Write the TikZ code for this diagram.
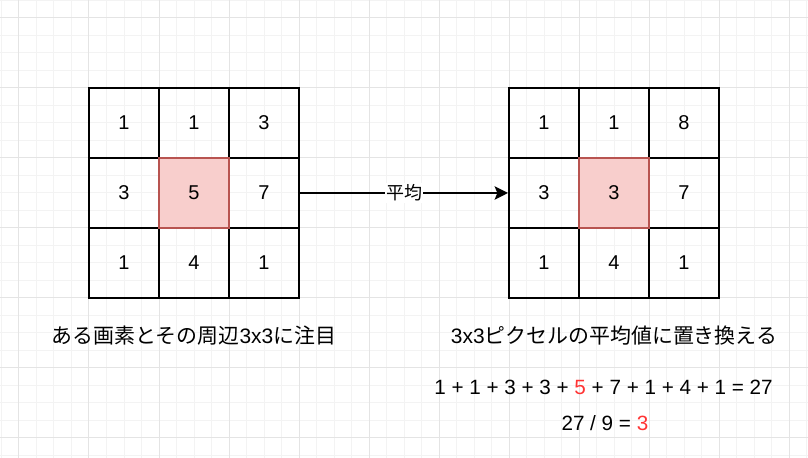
\documentclass[tikz,border=0pt]{standalone}
\usepackage{fontspec}
\setmainfont{Liberation Sans}
\newfontfamily\jpfont{Noto Sans CJK JP}
\usetikzlibrary{arrows.meta}

\definecolor{cellpink}{HTML}{F8CECC}
\definecolor{cellred}{HTML}{B85450}
\definecolor{hired}{HTML}{FF3333}
\definecolor{gridmajor}{HTML}{E4E4E4}
\definecolor{gridminor}{HTML}{F3F3F3}

\begin{document}
\begin{tikzpicture}[x=52.5pt, y=52.5pt,
    cell/.style={draw, line width=1.5pt, minimum size=52.5pt, inner sep=0pt, font=\fontsize{15}{18}\selectfont},
    focus/.style={cell, fill=cellpink, draw=cellred, line width=1pt},
    caption/.style={font=\fontsize{15.7}{18}\selectfont\jpfont},
    formula/.style={font=\fontsize{15.5}{18}\selectfont}]
  \useasboundingbox (-0.2714,-0.2857) rectangle (11.2714,6.2571);

  % Background grid
  \fill[white] (-0.2714,-0.2857) rectangle (11.2714,6.2571);
  \draw[gridminor, line width=0.75pt] (-0.2714,-0.2857) grid[step=0.25] (11.2714,6.2571);
  \draw[gridmajor, line width=0.75pt] (-0.2714,-0.2857) grid[step=1] (11.2714,6.2571);

  % Original pixels
  \node[cell] (l11) at (1.5, 4.5) {1};
  \node[cell] (l12) at (2.5, 4.5) {1};
  \node[cell] (l13) at (3.5, 4.5) {3};
  \node[cell] (l21) at (1.5, 3.5) {3};
  \node[cell] (l23) at (3.5, 3.5) {7};
  \node[cell] (l31) at (1.5, 2.5) {1};
  \node[cell] (l32) at (2.5, 2.5) {4};
  \node[cell] (l33) at (3.5, 2.5) {1};
  \node[focus] (l22) at (2.5, 3.5) {5};
  \node[caption] (lcap) at (2.5, 1.46) {ある画素とその周辺{\rmfamily 3x3}に注目};

  % Averaged pixels
  \node[cell] (r11) at (7.5, 4.5) {1};
  \node[cell] (r12) at (8.5, 4.5) {1};
  \node[cell] (r13) at (9.5, 4.5) {8};
  \node[cell] (r21) at (7.5, 3.5) {3};
  \node[cell] (r23) at (9.5, 3.5) {7};
  \node[cell] (r31) at (7.5, 2.5) {1};
  \node[cell] (r32) at (8.5, 2.5) {4};
  \node[cell] (r33) at (9.5, 2.5) {1};
  \node[focus] (r22) at (8.5, 3.5) {3};
  \node[caption] (rcap) at (8.5, 1.46) {{\rmfamily 3x3}ピクセルの平均値に置き換える};

  % Calculation
  \node[formula] (sum) at (8.35, 0.72) {1 + 1 + 3 + 3 + \textcolor{hired}{5} + 7 + 1 + 4 + 1 = 27};
  \node[formula] (avg) at (8.37, 0.21) {27 / 9 = \textcolor{hired}{3}};

  % Arrow
  \draw[line width=1.5pt, -{Stealth[length=10pt, width=10pt, inset=2pt]}] (l23.east) -- node[fill=white, inner sep=1pt, font=\fontsize{13.5}{16}\selectfont\jpfont] (avglabel) {平均} (r21.west);
\end{tikzpicture}
\end{document}
